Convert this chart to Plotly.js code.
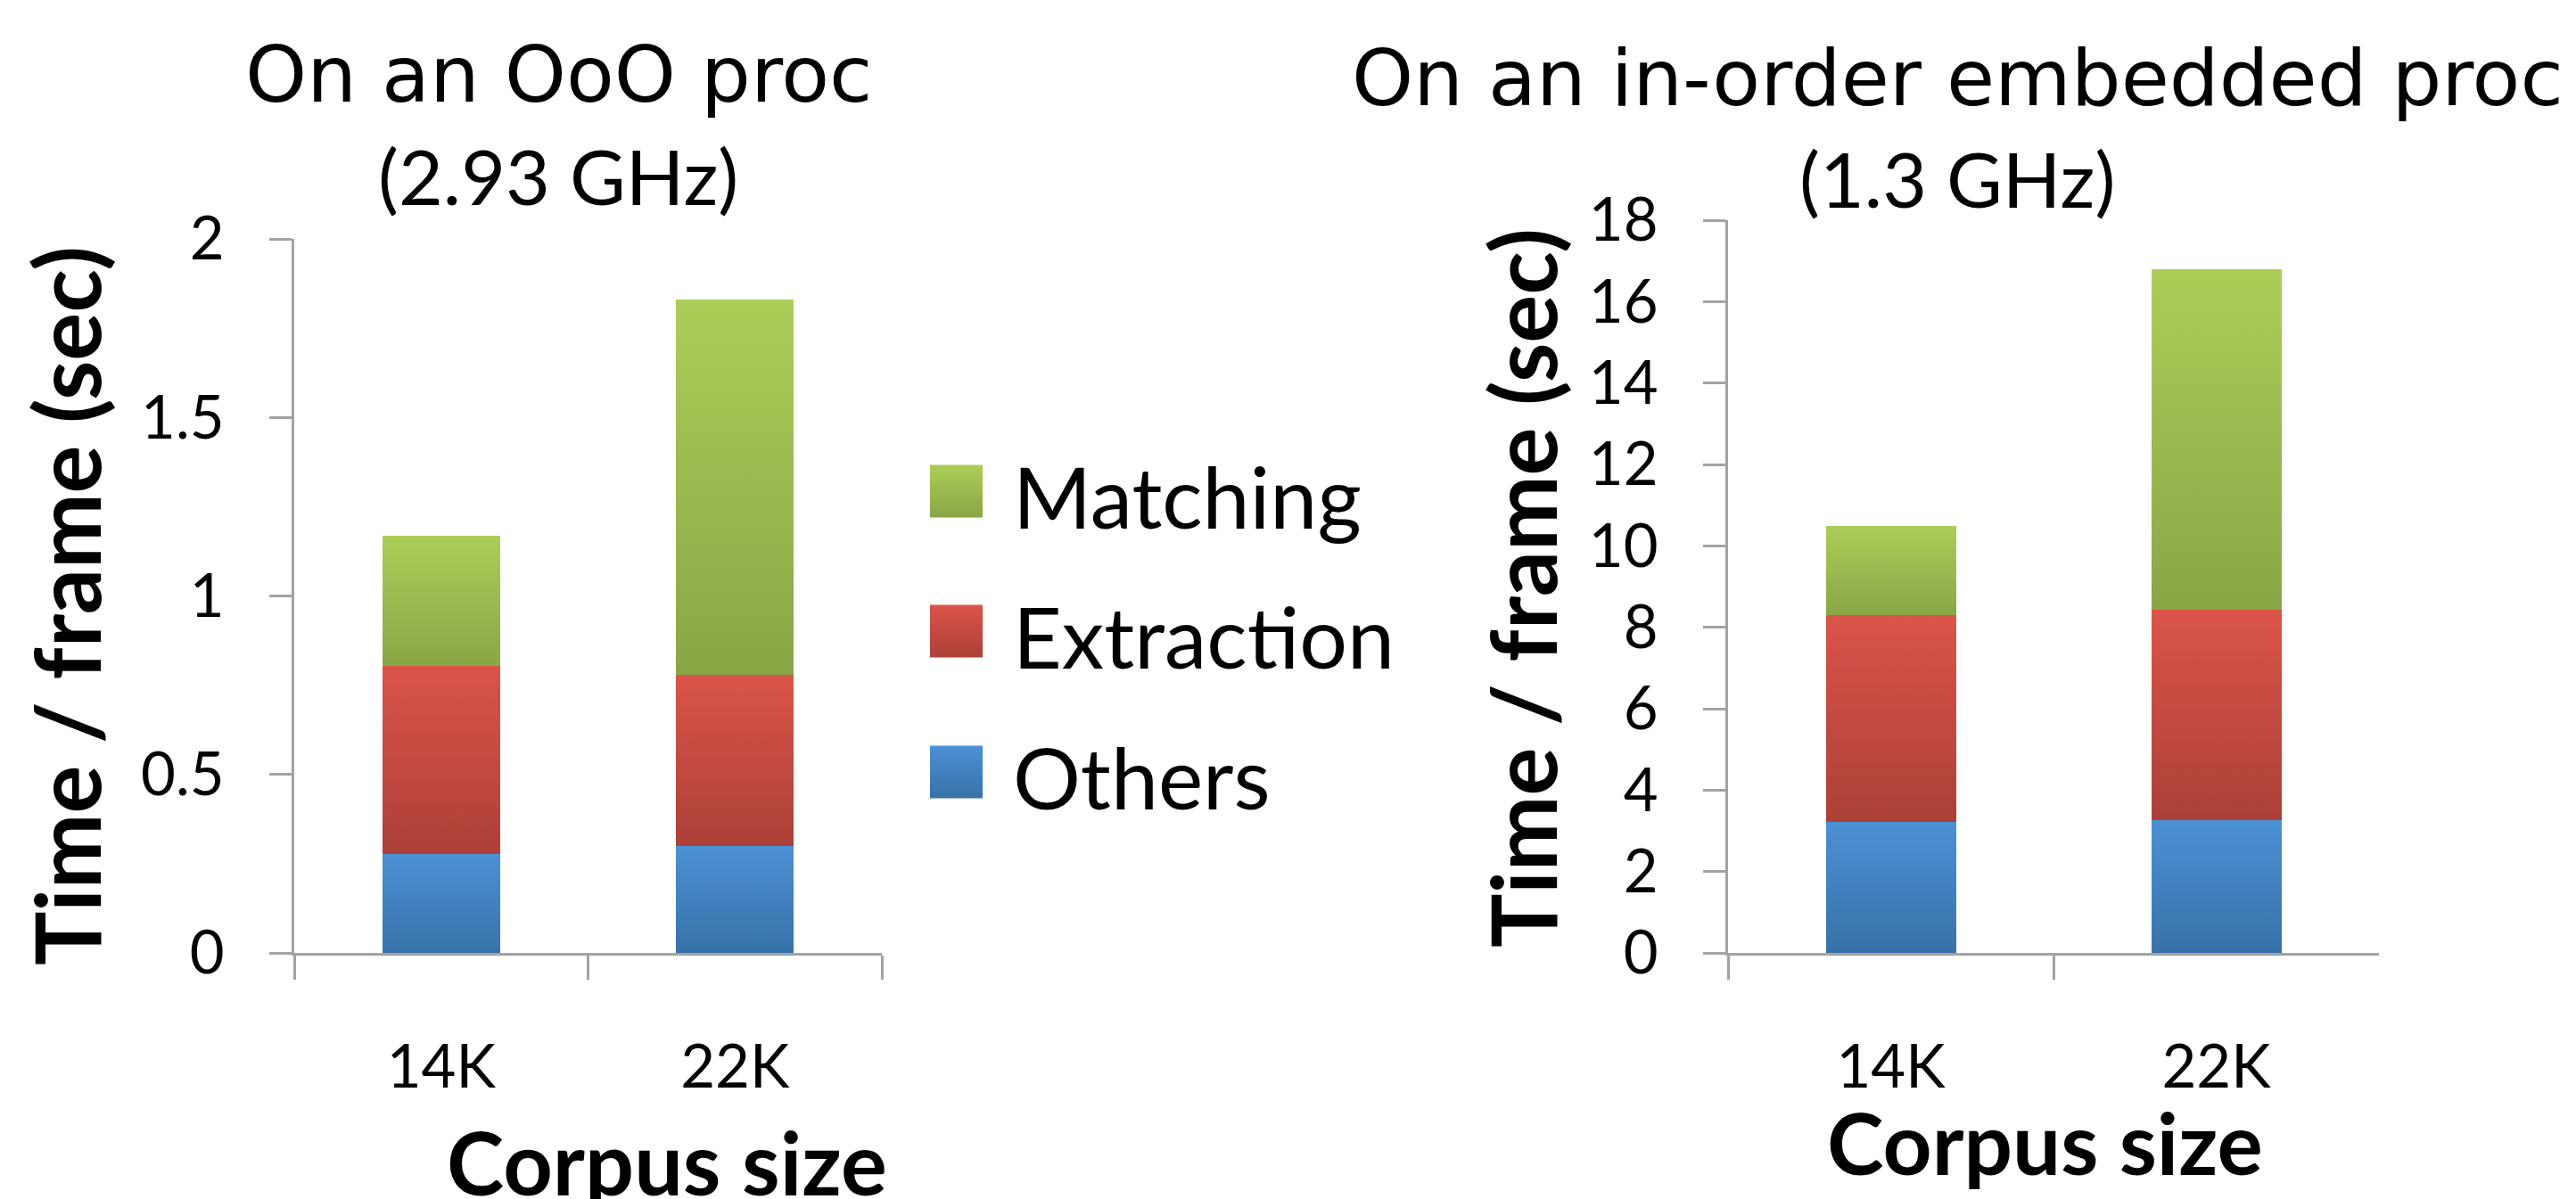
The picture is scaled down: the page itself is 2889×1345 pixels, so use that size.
<!DOCTYPE html>
<html><head><meta charset="utf-8">
<script src="https://cdn.plot.ly/plotly-3.0.1.min.js"></script>
<style>html,body{margin:0;padding:0;background:#fff;}#chart{width:2889px;height:1345px;}</style>
</head><body><div id="chart"></div>
<script>
// ---- data ----
const categories = ["14K", "22K"];
const seriesNames = ["Others", "Extraction", "Matching"];
const oooOthers = [0.276, 0.300];
const oooExtraction = [0.527, 0.478];
const oooMatching = [0.366, 1.051];
const embOthers = [3.22, 3.27];
const embExtraction = [5.09, 5.16];
const embMatching = [2.17, 8.37];
const leftTitle = ["On an OoO proc", "(2.93 GHz)"];
const rightTitle = ["On an in-order embedded proc", "(1.3 GHz)"];
const yTitle = "Time / frame (sec)";
const xTitle = "Corpus size";

// ---- styles ----
const topColors = ["#4b91d5", "#db544a", "#accd58"];
const bottomColors = ["#3871a8", "#ac4038", "#89a646"];
const midColors = ["#4382bf", "#c44a41", "#9bba4f"];

const W = 2889, H = 1345;
const px = x => x / W;
const py = y => 1 - y / H;

const oooData = [oooOthers, oooExtraction, oooMatching];
const embData = [embOthers, embExtraction, embMatching];

const traces = [];
seriesNames.forEach((name, s) => {
  traces.push({type: 'bar', x: categories, y: oooData[s], name: name, meta: s,
    xaxis: 'x', yaxis: 'y', showlegend: false, hoverinfo: 'none',
    marker: {color: midColors[s], line: {width: 0}}});
});
seriesNames.forEach((name, s) => {
  traces.push({type: 'bar', x: categories, y: embData[s], name: name, meta: s,
    xaxis: 'x2', yaxis: 'y2', showlegend: false, hoverinfo: 'none',
    marker: {color: midColors[s], line: {width: 0}}});
});

const axisLine = '#a3a3a3';
function xAxis(domain, anchor) {
  return {domain: domain, anchor: anchor, type: 'category', range: [-0.5, 1.5],
    showline: true, linecolor: axisLine, linewidth: 3, ticks: 'outside', tickson: 'boundaries',
    ticklen: 27, tickwidth: 3, tickcolor: axisLine, showgrid: false, zeroline: false,
    tickfont: {family: 'Lato', size: 67, color: '#000'}, ticklabelstandoff: 68, fixedrange: true};
}
function yAxis(domain, anchor, range, dtick) {
  return {domain: domain, anchor: anchor, range: range, dtick: dtick, tick0: 0,
    showline: true, linecolor: axisLine, linewidth: 3, ticks: 'outside',
    ticklen: 25, tickwidth: 3, tickcolor: axisLine, showgrid: false, zeroline: false,
    tickfont: {family: 'Lato', size: 67, color: '#000'}, ticklabelstandoff: 37, fixedrange: true};
}

const ann = [];
function addText(text, x, y, font, size, bold, angle) {
  ann.push({xref: 'paper', yref: 'paper', x: px(x), y: py(y), xanchor: 'center', yanchor: 'middle',
    text: bold ? '<b>' + text + '</b>' : text, showarrow: false, textangle: angle || 0,
    font: {family: font, size: size, color: '#000'}});
}
addText(leftTitle[0], 626, 84, 'DejaVu Sans', 88);
addText(leftTitle[1], 626, 197, 'Lato', 86);
addText(rightTitle[0], 2195, 87, 'DejaVu Sans', 88);
addText(rightTitle[1], 2195, 199, 'Lato', 86);
addText(yTitle, 74, 680, 'Lato', 101, true, -90);
addText(yTitle, 1707, 660, 'Lato', 101, true, -90);
addText(xTitle, 748, 1303, 'Lato', 97, true);
addText(xTitle, 2293, 1280, 'Lato', 96, true);

// legend (Matching top, Others bottom)
const legendRows = [866, 708, 551];
const shapes = [];
seriesNames.forEach((name, s) => {
  const cy = legendRows[s];
  shapes.push({type: 'rect', xref: 'paper', yref: 'paper', x0: px(1043), x1: px(1102),
    y0: py(cy + 29.5), y1: py(cy - 29.5), fillcolor: midColors[s], line: {width: 0}, layer: 'above'});
  ann.push({xref: 'paper', yref: 'paper', x: px(1134), y: py(cy + 5), xanchor: 'left', yanchor: 'middle',
    text: name, showarrow: false, font: {family: 'Lato', size: 95, color: '#000'}});
});

const layout = {
  width: W, height: H, margin: {l: 0, r: 0, t: 0, b: 0, pad: 0},
  paper_bgcolor: '#fff', plot_bgcolor: '#fff', barmode: 'stack', bargap: 0.6,
  showlegend: false, font: {family: 'Lato', color: '#000'},
  xaxis: xAxis([px(330), px(989)], 'y'),
  yaxis: yAxis([py(1069), py(268)], 'x', [0, 2], 0.5),
  xaxis2: xAxis([px(1938), px(2668)], 'y2'),
  yaxis2: yAxis([py(1069), py(247)], 'x2', [0, 18], 2),
  annotations: ann, shapes: shapes
};

const gd = document.getElementById('chart');
Plotly.newPlot(gd, traces, layout, {staticPlot: true, displayModeBar: false}).then(() => {
  const svg = gd.querySelector('.main-svg');
  let defs = svg.querySelector('defs');
  if (!defs) { defs = document.createElementNS('http://www.w3.org/2000/svg', 'defs'); svg.insertBefore(defs, svg.firstChild); }
  seriesNames.forEach((n, s) => {
    const g = document.createElementNS('http://www.w3.org/2000/svg', 'linearGradient');
    g.setAttribute('id', 'sgrad' + s);
    g.setAttribute('x1', '0'); g.setAttribute('y1', '0'); g.setAttribute('x2', '0'); g.setAttribute('y2', '1');
    [[0, topColors[s]], [1, bottomColors[s]]].forEach(([o, c]) => {
      const st = document.createElementNS('http://www.w3.org/2000/svg', 'stop');
      st.setAttribute('offset', o); st.setAttribute('stop-color', c);
      g.appendChild(st);
    });
    defs.appendChild(g);
  });
  gd.querySelectorAll('.barlayer .trace').forEach(tg => {
    const cd = tg.__data__;
    if (!cd || !cd[0] || !cd[0].trace) return;
    const s = cd[0].trace.meta;
    tg.querySelectorAll('path').forEach(p => { p.style.fill = 'url(#sgrad' + s + ')'; });
  });
  gd.querySelectorAll('.shapelayer path').forEach(p => {
    const i = +p.getAttribute('data-index');
    if (!isNaN(i) && i < seriesNames.length) p.style.fill = 'url(#sgrad' + i + ')';
  });
});
</script>
</body></html>
